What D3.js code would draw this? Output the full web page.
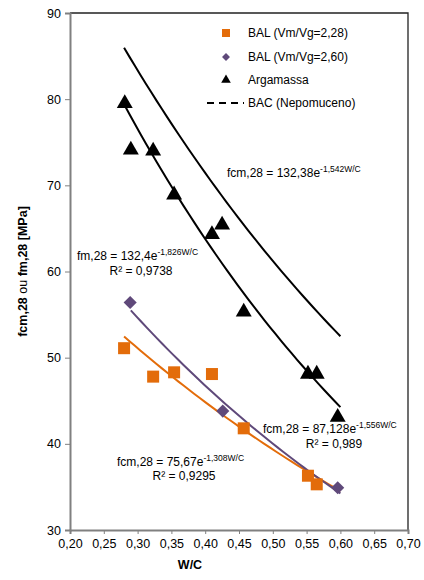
<!DOCTYPE html>
<html>
<head>
<meta charset="utf-8">
<script src="https://cdn.jsdelivr.net/npm/d3@7"></script>
<style>
  body { margin: 0; background: #fff; }
  svg text { font-family: "Liberation Sans", Arial, sans-serif; fill: #000; }
</style>
</head>
<body>
<svg id="viz"></svg>
<script>
// ----------------------------------------------------------------------------------------------------------------
// DATA

var xTicks = [0.20, 0.25, 0.30, 0.35, 0.40, 0.45, 0.50, 0.55, 0.60, 0.65, 0.70];
var yTicks = [30, 40, 50, 60, 70, 80, 90];

// BAL (Vm/Vg=2,28)
var balA = [
  {"wc": 0.280, "f": 51.1},
  {"wc": 0.323, "f": 47.8},
  {"wc": 0.354, "f": 48.3},
  {"wc": 0.410, "f": 48.1},
  {"wc": 0.457, "f": 41.8},
  {"wc": 0.552, "f": 36.3},
  {"wc": 0.565, "f": 35.3}
];

// BAL (Vm/Vg=2,60)
var balB = [
  {"wc": 0.289, "f": 56.4},
  {"wc": 0.426, "f": 43.8},
  {"wc": 0.596, "f": 34.9}
];

// Argamassa
var argamassa = [
  {"wc": 0.281, "f": 79.5},
  {"wc": 0.290, "f": 74.1},
  {"wc": 0.323, "f": 74.0},
  {"wc": 0.354, "f": 68.9},
  {"wc": 0.410, "f": 64.3},
  {"wc": 0.425, "f": 65.4},
  {"wc": 0.457, "f": 55.3},
  {"wc": 0.552, "f": 48.1},
  {"wc": 0.565, "f": 48.1},
  {"wc": 0.596, "f": 43.1}
];

// fitted curves: f = a * e^(b * W/C), drawn between x0 and x1
var fits = [
  {"name": "bac", "a": 132.38, "b": -1.542, "x0": 0.28, "x1": 0.60, "color": "#000"},
  {"name": "arg", "a": 132.4, "b": -1.826, "x0": 0.28, "x1": 0.60, "color": "#000"},
  {"name": "balA", "a": 75.67, "b": -1.308, "x0": 0.28, "x1": 0.60, "color": "#e36c0a"},
  {"name": "balB", "a": 87.128, "b": -1.556, "x0": 0.29, "x1": 0.60, "color": "#5f497a"}
];

var legendLabels = ["BAL (Vm/Vg=2,28)", "BAL (Vm/Vg=2,60)", "Argamassa", "BAC (Nepomuceno)"];

// ----------------------------------------------------------------------------------------------------------------
// SETUP

var w = 424;
var h = 580;
var mLeft = 70, mRight = 408, mTop = 13, mBottom = 530;
var orange = "#e36c0a";
var purple = "#5f497a";

var viz = d3.select("#viz").attr("width", w).attr("height", h);

var x = d3.scaleLinear().domain([0.20, 0.70]).range([mLeft, mRight]);
var y = d3.scaleLinear().domain([30, 90]).range([mBottom, mTop]);
var fmt = function(d) { return d3.format(".2f")(d).replace(".", ","); };

// ----------------------------------------------------------------------------------------------------------------
// FRAME + AXES

// top and right border
viz.append("path")
  .attr("d", "M" + mLeft + "," + mTop + "H" + mRight + "V" + mBottom)
  .attr("fill", "none")
  .attr("stroke", "#222")
  .attr("stroke-width", 1.3);

var yAxis = viz.append("g")
  .attr("transform", "translate(" + mLeft + ",0)")
  .call(d3.axisLeft(y).tickValues(yTicks).tickSize(5).tickPadding(4));

var xAxis = viz.append("g")
  .attr("transform", "translate(0," + mBottom + ")")
  .call(d3.axisBottom(x).tickValues(xTicks).tickFormat(fmt).tickSize(4).tickPadding(5));

[xAxis, yAxis].forEach(function(g) {
  g.select(".domain").attr("stroke", "#808080").attr("stroke-width", 2);
  g.selectAll(".tick line").attr("stroke", "#808080");
  g.selectAll(".tick text").attr("font-size", 12.5).attr("font-family", "Liberation Sans, Arial, sans-serif");
});

// axis titles
var yTitle = viz.append("text")
  .attr("transform", "translate(27," + ((mTop + mBottom) / 2) + ") rotate(-90)")
  .attr("text-anchor", "middle")
  .attr("font-size", 12.5)
  .attr("font-weight", "bold");
yTitle.append("tspan").text("fcm,28 ");
yTitle.append("tspan").attr("font-weight", "normal").text("ou");
yTitle.append("tspan").text(" fm,28 [MPa]");

viz.append("text")
  .attr("x", 190)
  .attr("y", 569)
  .attr("text-anchor", "middle")
  .attr("font-size", 12.5)
  .attr("font-weight", "bold")
  .text("W/C");

// ----------------------------------------------------------------------------------------------------------------
// CURVES

var line = d3.line().x(function(d) { return x(d[0]); }).y(function(d) { return y(d[1]); });

fits.forEach(function(f) {
  var pts = d3.range(0, 41).map(function(i) {
    var wc = f.x0 + (f.x1 - f.x0) * i / 40;
    return [wc, f.a * Math.exp(f.b * wc)];
  });
  viz.append("path")
    .attr("d", line(pts))
    .attr("fill", "none")
    .attr("stroke", f.color)
    .attr("stroke-width", 2);
});

// ----------------------------------------------------------------------------------------------------------------
// MARKERS

viz.selectAll("rect.balA")
  .data(balA)
  .enter()
  .append("rect")
  .attr("class", "balA")
  .attr("x", function(d) { return x(d.wc) - 6; })
  .attr("y", function(d) { return y(d.f) - 6; })
  .attr("width", 12)
  .attr("height", 12)
  .attr("fill", orange);

var diamond = d3.symbol().type(d3.symbolDiamond2).size(110);
viz.selectAll("path.balB")
  .data(balB)
  .enter()
  .append("path")
  .attr("class", "balB")
  .attr("d", diamond)
  .attr("transform", function(d) { return "translate(" + x(d.wc) + "," + y(d.f) + ")"; })
  .attr("fill", purple);

var tri = d3.symbol().type(d3.symbolTriangle).size(110);
viz.selectAll("path.arg")
  .data(argamassa)
  .enter()
  .append("path")
  .attr("class", "arg")
  .attr("d", tri)
  .attr("transform", function(d) { return "translate(" + x(d.wc) + "," + y(d.f) + ")"; })
  .attr("fill", "#000");

// ----------------------------------------------------------------------------------------------------------------
// EQUATIONS

function equation(px, py, base, expo, anchor) {
  var t = viz.append("text")
    .attr("x", px)
    .attr("y", py)
    .attr("text-anchor", anchor || "start")
    .attr("font-size", 12);
  t.append("tspan").text(base);
  t.append("tspan").attr("dy", -5).attr("font-size", 8.5).text(expo);
  return t;
}

equation(227, 177, "fcm,28 = 132,38e", "-1,542W/C");
equation(77, 260, "fm,28 = 132,4e", "-1,826W/C");
viz.append("text").attr("x", 141).attr("y", 275).attr("text-anchor", "middle").attr("font-size", 12).text("R² = 0,9738");
equation(117, 466, "fcm,28 = 75,67e", "-1,308W/C");
viz.append("text").attr("x", 184).attr("y", 480).attr("text-anchor", "middle").attr("font-size", 12).text("R² = 0,9295");
equation(263, 433, "fcm,28 = 87,128e", "-1,556W/C");
viz.append("text").attr("x", 334).attr("y", 448).attr("text-anchor", "middle").attr("font-size", 12).text("R² = 0,989");

// ----------------------------------------------------------------------------------------------------------------
// LEGEND

var lg = viz.append("g");
var ly = [33, 57, 80, 103];
lg.append("rect").attr("x", 222).attr("y", ly[0] - 4).attr("width", 8).attr("height", 8).attr("fill", orange);
lg.append("path").attr("d", d3.symbol().type(d3.symbolDiamond2).size(40))
  .attr("transform", "translate(226," + ly[1] + ")").attr("fill", purple);
lg.append("path").attr("d", d3.symbol().type(d3.symbolTriangle).size(40))
  .attr("transform", "translate(226," + ly[2] + ")").attr("fill", "#000");
lg.append("line").attr("x1", 207).attr("x2", 244).attr("y1", ly[3]).attr("y2", ly[3])
  .attr("stroke", "#000").attr("stroke-width", 2).attr("stroke-dasharray", "7,5");
lg.selectAll("text")
  .data(legendLabels)
  .enter()
  .append("text")
  .attr("x", 248)
  .attr("y", function(d, i) { return ly[i] + 4; })
  .attr("font-size", 12)
  .text(function(d) { return d; });
</script>
</body>
</html>
